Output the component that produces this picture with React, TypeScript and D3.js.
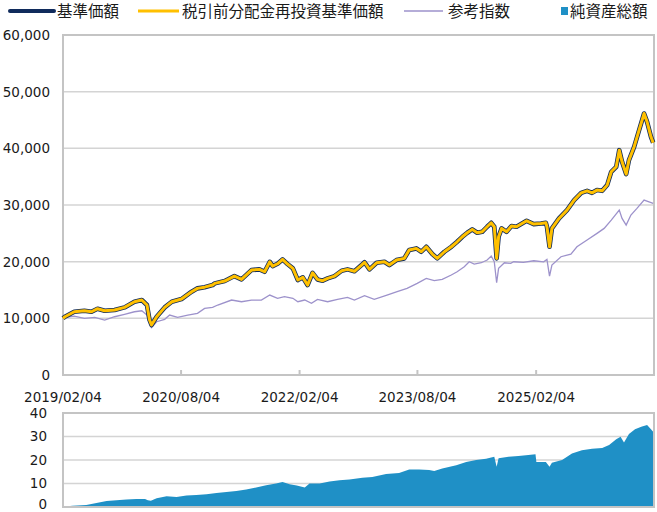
import React from 'react';
import * as d3 from 'd3';

// 基準価額 (date, yen)
const basePrice: [string, number][] = [
  ['2019-02-04', 10000], ['2019-02-13', 10280], ['2019-03-28', 11160], ['2019-05-14', 11340],
  ['2019-06-16', 11160], ['2019-07-14', 11700], ['2019-08-16', 11340], ['2019-10-01', 11460],
  ['2019-11-16', 11930], ['2020-01-01', 12930], ['2020-02-04', 13230], ['2020-02-28', 12350],
  ['2020-03-11', 9700], ['2020-03-20', 8820], ['2020-04-13', 10280], ['2020-05-20', 11930],
  ['2020-06-22', 12930], ['2020-08-06', 13400], ['2020-09-22', 14700], ['2020-10-19', 15290],
  ['2020-11-21', 15500], ['2020-12-28', 15870], ['2021-01-07', 16170], ['2021-02-22', 16580],
  ['2021-04-08', 17460], ['2021-05-11', 16870], ['2021-06-26', 18520], ['2021-08-02', 18640],
  ['2021-08-26', 18220], ['2021-09-19', 19980], ['2021-10-02', 19220], ['2021-10-25', 19630],
  ['2021-11-17', 20400], ['2021-12-10', 19580], ['2022-01-04', 18820], ['2022-01-27', 16760],
  ['2022-02-19', 17230], ['2022-03-13', 15870], ['2022-04-05', 18040], ['2022-04-28', 16870],
  ['2022-05-22', 16640], ['2022-06-14', 17050], ['2022-07-16', 17460], ['2022-08-18', 18400],
  ['2022-09-14', 18640], ['2022-10-16', 18300], ['2022-11-18', 19400], ['2022-12-02', 19900],
  ['2022-12-25', 18640], ['2023-01-27', 19810], ['2023-03-04', 19980], ['2023-03-27', 19400],
  ['2023-04-29', 20280], ['2023-06-04', 20580], ['2023-06-27', 22050], ['2023-07-30', 22340],
  ['2023-08-22', 21750], ['2023-09-14', 22630], ['2023-10-12', 21340], ['2023-11-04', 20580],
  ['2023-12-07', 21750], ['2024-01-08', 22630], ['2024-02-04', 23510], ['2024-02-28', 24390],
  ['2024-03-22', 25100], ['2024-04-14', 25700], ['2024-05-07', 25100], ['2024-05-30', 25270],
  ['2024-06-22', 26160], ['2024-07-11', 26860], ['2024-07-25', 26160], ['2024-08-05', 20580],
  ['2024-08-14', 24390], ['2024-08-28', 25870], ['2024-09-20', 25270], ['2024-10-13', 26280],
  ['2024-11-05', 26160], ['2024-12-22', 27210], ['2025-01-24', 26630], ['2025-02-26', 26750],
  ['2025-03-21', 26860], ['2025-03-26', 26160], ['2025-04-07', 22630], ['2025-04-18', 25870],
  ['2025-05-21', 27630], ['2025-06-27', 29100], ['2025-07-30', 30860], ['2025-09-01', 32150],
  ['2025-09-28', 32500], ['2025-10-21', 32150], ['2025-11-13', 32630], ['2025-12-07', 32500],
  ['2025-12-30', 33510], ['2026-01-18', 35860], ['2026-02-10', 36740], ['2026-02-24', 39680],
  ['2026-03-09', 37620], ['2026-03-28', 35450], ['2026-04-10', 37920], ['2026-05-04', 40270],
  ['2026-05-27', 43210], ['2026-06-19', 46150], ['2026-07-03', 44670], ['2026-07-21', 42030],
  ['2026-07-31', 41000],
];

// 税引前分配金再投資基準価額 — no distributions, so it sits on top of the base price
const reinvestedPrice: [string, number][] = basePrice;

// 参考指数
const benchmark: [string, number][] = [
  ['2019-02-04', 10000], ['2019-02-13', 10170], ['2019-03-28', 10400], ['2019-05-14', 10000],
  ['2019-07-01', 10170], ['2019-08-16', 9700], ['2019-10-01', 10280], ['2019-11-16', 10700],
  ['2020-01-01', 11160], ['2020-02-04', 11340], ['2020-02-28', 10580], ['2020-03-20', 8400],
  ['2020-04-13', 9400], ['2020-05-20', 9820], ['2020-06-12', 10580], ['2020-07-19', 10170],
  ['2020-09-04', 10580], ['2020-10-19', 10880], ['2020-11-21', 11760], ['2020-12-28', 11930],
  ['2021-01-21', 12350], ['2021-03-26', 13230], ['2021-05-11', 12930], ['2021-06-26', 13230],
  ['2021-08-11', 13230], ['2021-09-19', 14110], ['2021-10-25', 13530], ['2021-11-26', 13820],
  ['2022-01-04', 13530], ['2022-01-27', 12930], ['2022-02-28', 13230], ['2022-03-31', 12640],
  ['2022-04-28', 13350], ['2022-06-14', 12930], ['2022-07-30', 13350], ['2022-09-14', 13700],
  ['2022-10-16', 13230], ['2022-12-02', 14000], ['2023-01-16', 13350], ['2023-03-16', 14110],
  ['2023-05-02', 14700], ['2023-06-17', 15290], ['2023-08-03', 16170], ['2023-09-14', 17050],
  ['2023-10-21', 16640], ['2023-11-27', 16870], ['2024-01-08', 17640], ['2024-02-04', 18220],
  ['2024-03-08', 19100], ['2024-03-31', 19980], ['2024-04-23', 19580], ['2024-05-26', 19810],
  ['2024-06-22', 20280], ['2024-07-11', 20990], ['2024-07-25', 19980], ['2024-08-05', 16280],
  ['2024-08-14', 18820], ['2024-09-10', 19810], ['2024-10-09', 19700], ['2024-10-23', 19980],
  ['2024-12-07', 19870], ['2025-01-24', 20160], ['2025-03-11', 19980], ['2025-03-26', 20400],
  ['2025-04-07', 17460], ['2025-04-18', 19400], ['2025-05-30', 20870], ['2025-07-15', 21340],
  ['2025-08-12', 22630], ['2025-09-28', 23810], ['2025-11-13', 24990], ['2025-12-16', 25870],
  ['2026-01-18', 27340], ['2026-02-24', 29100], ['2026-03-09', 27630], ['2026-03-28', 26460],
  ['2026-04-19', 28220], ['2026-05-17', 29400], ['2026-06-19', 30860], ['2026-07-12', 30560],
  ['2026-07-31', 30300],
];

// 純資産総額 (億円)
const netAssets: [string, number][] = [
  ['2019-02-04', 0.1], ['2019-03-20', 0.5], ['2019-05-23', 0.9], ['2019-07-09', 1.7],
  ['2019-08-25', 2.6], ['2019-10-10', 2.9], ['2019-11-25', 3.2], ['2020-01-10', 3.4],
  ['2020-02-19', 3.4], ['2020-03-03', 2.9], ['2020-03-17', 2.7], ['2020-04-13', 3.7],
  ['2020-05-29', 4.6], ['2020-07-14', 4.3], ['2020-08-29', 4.9], ['2020-10-14', 5.1],
  ['2020-11-30', 5.4], ['2021-01-15', 6.0], ['2021-03-02', 6.4], ['2021-04-17', 6.8],
  ['2021-06-02', 7.4], ['2021-07-18', 8.3], ['2021-09-02', 9.3], ['2021-10-18', 10.0],
  ['2021-11-17', 10.6], ['2021-12-20', 9.7], ['2022-01-22', 9.1], ['2022-02-28', 8.3],
  ['2022-03-22', 10.0], ['2022-05-08', 10.0], ['2022-06-23', 10.8], ['2022-08-08', 11.4],
  ['2022-09-23', 11.7], ['2022-11-22', 12.5], ['2023-01-07', 12.8], ['2023-03-12', 14.0],
  ['2023-05-11', 14.5], ['2023-06-27', 16.0], ['2023-08-12', 16.0], ['2023-09-27', 15.7],
  ['2023-10-21', 15.3], ['2023-11-27', 16.4], ['2024-01-31', 17.8], ['2024-03-17', 19.2],
  ['2024-05-02', 20.0], ['2024-06-17', 20.5], ['2024-07-25', 21.4], ['2024-08-05', 17.1],
  ['2024-08-14', 20.7], ['2024-09-29', 21.4], ['2024-11-14', 21.7], ['2024-12-30', 22.1],
  ['2025-02-01', 22.5], ['2025-02-05', 19.2], ['2025-03-21', 19.1], ['2025-04-07', 17.1],
  ['2025-04-18', 18.8], ['2025-06-04', 20.0], ['2025-07-20', 22.8], ['2025-09-04', 24.2],
  ['2025-10-21', 24.8], ['2025-12-07', 25.1], ['2026-01-08', 26.4], ['2026-02-10', 28.8],
  ['2026-03-02', 29.9], ['2026-03-18', 27.4], ['2026-04-10', 31.1], ['2026-05-08', 33.1],
  ['2026-06-06', 34.2], ['2026-07-03', 34.9], ['2026-07-21', 33.1], ['2026-07-31', 32.0],
];

const xTickLabels = ['2019/02/04', '2020/08/04', '2022/02/04', '2023/08/04', '2025/02/04'];
const priceTicks = [0, 10000, 20000, 30000, 40000, 50000, 60000];
const assetTicks = [0, 10, 20, 30, 40];

const legendItems = [
  { label: '基準価額', kind: 'base' },
  { label: '税引前分配金再投資基準価額', kind: 'reinvest' },
  { label: '参考指数', kind: 'bench' },
  { label: '純資産総額', kind: 'assets' },
];

const NAVY = '#102b5c';
const GOLD = '#ffc000';
const LAVENDER = '#9d92cb';
const BLUE = '#1f90c6';
const GRID = '#d4d4d4';
const BORDER = '#c4c4c4';

const parse = d3.timeParse('%Y-%m-%d');
const parseTick = d3.timeParse('%Y/%m/%d');

const App = () => {
  const W = 657;
  const H = 512;
  const left = 63;
  const right = 654;
  const top1 = 35;
  const bottom1 = 375;
  const top2 = 413;
  const bottom2 = 507;

  const x = d3.scaleTime()
    .domain([parseTick('2019/02/04') as Date, parseTick('2026/08/04') as Date])
    .range([left, right]);
  const yPrice = d3.scaleLinear().domain([0, 60000]).range([bottom1, top1]);
  const yAssets = d3.scaleLinear().domain([0, 40]).range([bottom2, top2]);

  const priceLine = d3.line<[string, number]>()
    .x(d => x(parse(d[0]) as Date))
    .y(d => yPrice(d[1]));

  const assetArea = d3.area<[string, number]>()
    .x(d => x(parse(d[0]) as Date))
    .y0(yAssets(0))
    .y1(d => yAssets(d[1]));

  const fmt = d3.format(',');
  const tickFont = { fontFamily: '"DejaVu Sans", Verdana, sans-serif', fontSize: 13.5, fill: '#1a1a1a' };
  const legendFont = { fontFamily: '"Noto Sans CJK JP", sans-serif', fontSize: 15.5, fill: '#1a1a1a' };

  // legend layout
  const legendX = [10, 138, 404, 561];

  return (
    <svg width={W} height={H} style={{ position: 'absolute', left: 0, top: 0, background: '#fff' }}>
      {/* legend */}
      {legendItems.map((item, i) => {
        const lx = legendX[i];
        let marker;
        if (item.kind === 'base') marker = <line x1={lx} x2={lx + 44} y1={11} y2={11} stroke={NAVY} strokeWidth={4} strokeLinecap="round" />;
        else if (item.kind === 'reinvest') marker = <line x1={lx} x2={lx + 41} y1={11} y2={11} stroke={GOLD} strokeWidth={3} />;
        else if (item.kind === 'bench') marker = <line x1={lx} x2={lx + 39} y1={11} y2={11} stroke={LAVENDER} strokeWidth={1.5} />;
        else marker = <rect x={lx} y={7} width={7} height={8} fill={BLUE} />;
        const textX = item.kind === 'assets' ? lx + 9 : lx + (item.kind === 'base' ? 47 : 44);
        return (
          <g key={item.label}>
            {marker}
            <text x={textX} y={11} dy="0.36em" {...legendFont}>{item.label}</text>
          </g>
        );
      })}

      {/* top chart grid */}
      {priceTicks.map(t => (
        <g key={t}>
          <line x1={left} x2={right} y1={yPrice(t)} y2={yPrice(t)} stroke={GRID} strokeWidth={1.5} />
          <text x={50} y={yPrice(t)} dy="0.36em" textAnchor="end" {...tickFont}>{fmt(t)}</text>
        </g>
      ))}
      <rect x={left} y={top1} width={right - left} height={bottom1 - top1} fill="none" stroke={BORDER} strokeWidth={2} />

      {/* x ticks */}
      {xTickLabels.map(l => {
        const tx = x(parseTick(l) as Date);
        return (
          <g key={l}>
            <line x1={tx} x2={tx} y1={bottom1} y2={bottom1 - 5} stroke={BORDER} strokeWidth={2} />
            <text x={tx} y={397} dy="0.36em" textAnchor="middle" {...tickFont}>{l}</text>
          </g>
        );
      })}

      {/* series */}
      <path d={priceLine(benchmark) || ''} fill="none" stroke={LAVENDER} strokeWidth={1.3} />
      <path d={priceLine(basePrice) || ''} fill="none" stroke={NAVY} strokeWidth={4.6} strokeLinejoin="round" />
      <path d={priceLine(reinvestedPrice) || ''} fill="none" stroke={GOLD} strokeWidth={3} strokeLinejoin="round" />

      {/* bottom chart */}
      {assetTicks.map(t => (
        <g key={t}>
          <line x1={left} x2={right} y1={yAssets(t)} y2={yAssets(t)} stroke={GRID} strokeWidth={1.5} />
          <text x={47} y={Math.min(yAssets(t), 506)} dy={t === 0 ? '0.2em' : '0.36em'} textAnchor="end" {...tickFont}>{t}</text>
        </g>
      ))}
      <path d={assetArea(netAssets) || ''} fill={BLUE} />
      <rect x={left} y={top2} width={right - left} height={bottom2 - top2} fill="none" stroke={BORDER} strokeWidth={2} />
    </svg>
  );
};

export default App;
